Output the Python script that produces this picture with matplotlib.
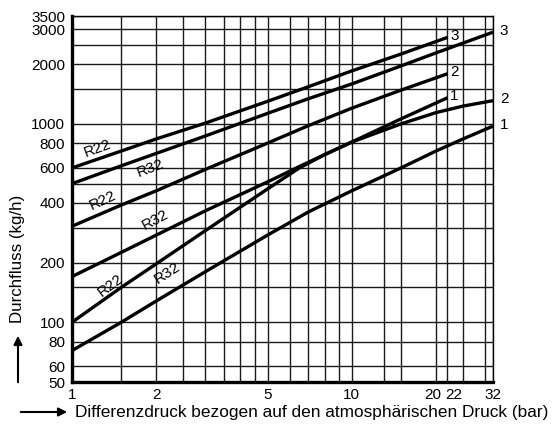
import numpy as np
import matplotlib as mpl
from matplotlib import pyplot as plt
from matplotlib.transforms import ScaledTranslation

mpl.rcParams['font.family'] = ['Liberation Sans', 'DejaVu Sans']
mpl.rcParams['font.size'] = 11

# grid positions of the printed chart paper
x_grid = [1, 1.5, 2, 2.5, 3, 3.5, 4, 4.5, 5, 6, 7, 8, 9, 10, 13, 15, 20, 22, 25, 30, 32]
y_grid = [50, 60, 80, 100, 150, 200, 300, 400, 500, 600, 800, 1000, 1500, 2000, 2500, 3000, 3500]

x_ticks = [1, 2, 5, 10, 20, 22, 32]
y_ticks = [50, 60, 80, 100, 200, 400, 600, 800, 1000, 2000, 3000, 3500]

# R22 curves (end at 22 bar)
r22_3_x = [1, 1.5, 2, 3, 5, 7, 10, 15, 22]
r22_3_y = [600, 730, 840, 1010, 1300, 1540, 1850, 2250, 2730]
r22_2_x = [1, 1.5, 2, 3, 5, 7, 10, 15, 22]
r22_2_y = [305, 390, 460, 590, 800, 980, 1200, 1480, 1790]
r22_1_x = [1, 1.5, 2, 3, 5, 6.5, 8, 10, 15, 22]
r22_1_y = [100, 150, 197, 290, 470, 600, 700, 810, 1060, 1355]

# R32 curves (end at 32 bar)
r32_3_x = [1, 1.5, 2, 3, 5, 7, 10, 15, 20, 32]
r32_3_y = [500, 615, 710, 870, 1130, 1340, 1590, 1960, 2280, 2900]
r32_2_x = [1, 1.5, 2, 3, 5, 6.5, 8, 10, 15, 20, 25, 32]
r32_2_y = [170, 225, 275, 365, 510, 610, 700, 810, 1000, 1140, 1230, 1310]
r32_1_x = [1, 1.5, 2, 3, 5, 7, 10, 15, 20, 25, 32]
r32_1_y = [72, 100, 128, 180, 275, 360, 460, 600, 730, 840, 975]

# refrigerant names written along the curves
name_text = ['R22', 'R32', 'R22', 'R32', 'R22', 'R32']
name_x = [1.23, 1.90, 1.29, 1.98, 1.37, 2.19]
name_y = [756, 600, 413, 328, 154, 177]
name_rot = [20, 21, 25, 28, 37, 33]

fig = plt.figure(figsize=(5.53, 4.34), dpi=100)
ax = fig.add_axes([72 / 553, 52 / 434, 421 / 553, 366 / 434])
ax.set_xscale('log')
ax.set_yscale('log')
ax.set_xlim(1, 32)
ax.set_ylim(50, 3500)

for gx in x_grid:
	ax.axvline(gx, color='#1a1a1a', lw=1.0, zorder=1)
for gy in y_grid:
	ax.axhline(gy, color='#1a1a1a', lw=1.0, zorder=1)

curves = [(r22_3_x, r22_3_y), (r22_2_x, r22_2_y), (r22_1_x, r22_1_y),
	(r32_3_x, r32_3_y), (r32_2_x, r32_2_y), (r32_1_x, r32_1_y)]
for cx, cy in curves:
	ax.plot(cx, cy, color='black', lw=2.4, solid_capstyle='butt', zorder=3)

for txt, tx, ty, rot in zip(name_text, name_x, name_y, name_rot):
	ax.text(tx, ty, txt, rotation=rot, ha='center', va='center', fontsize=11,
		rotation_mode='anchor', zorder=4)

# end numbers
for cx, cy, lab in [(r22_3_x, r22_3_y, '3'), (r22_2_x, r22_2_y, '2'), (r22_1_x, r22_1_y, '1')]:
	ax.annotate(lab, (cx[-1], cy[-1]), xytext=(2, 1), textcoords='offset points',
		ha='left', va='center', fontsize=11, zorder=4)
for cx, cy, lab in [(r32_3_x, r32_3_y, '3'), (r32_2_x, r32_2_y, '2'), (r32_1_x, r32_1_y, '1')]:
	ax.annotate(lab, (cx[-1], cy[-1]), xytext=(5, 1), textcoords='offset points',
		ha='left', va='center', fontsize=11, annotation_clip=False)

ax.set_xticks(x_ticks)
ax.set_xticklabels([str(v) for v in x_ticks])
ax.set_yticks(y_ticks)
ax.set_yticklabels([str(v) for v in y_ticks])
ax.minorticks_off()
ax.tick_params(length=0, labelsize=11)
ax.tick_params(axis='x', pad=4)
ax.tick_params(axis='y', pad=5)

labels = ax.get_xticklabels()
labels[4].set_transform(labels[4].get_transform() + ScaledTranslation(-0.03, 0, fig.dpi_scale_trans))
labels[5].set_transform(labels[5].get_transform() + ScaledTranslation(0.06, 0, fig.dpi_scale_trans))

for side in ['top', 'right']:
	ax.spines[side].set_linewidth(1.0)
for side in ['left', 'bottom']:
	ax.spines[side].set_linewidth(2.4)

fig.text(18 / 553, 1 - 259 / 434, 'Durchfluss (kg/h)', rotation=90, ha='center', va='center', fontsize=12.2)
fig.text(75 / 553, 1 - 412 / 434, 'Differenzdruck bezogen auf den atmosphärischen Druck (bar)',
	ha='left', va='center', fontsize=12.4)

# arrows
fig.add_artist(mpl.patches.FancyArrowPatch((18 / 553, 1 - 385 / 434), (18 / 553, 1 - 333 / 434),
	transform=fig.transFigure, arrowstyle='-|>,head_length=5,head_width=2.5', lw=1.5, color='black'))
fig.add_artist(mpl.patches.FancyArrowPatch((18 / 553, 1 - 412 / 434), (70 / 553, 1 - 412 / 434),
	transform=fig.transFigure, arrowstyle='-|>,head_length=5,head_width=2.5', lw=1.5, color='black'))

fig.savefig('out.png', dpi=100)
